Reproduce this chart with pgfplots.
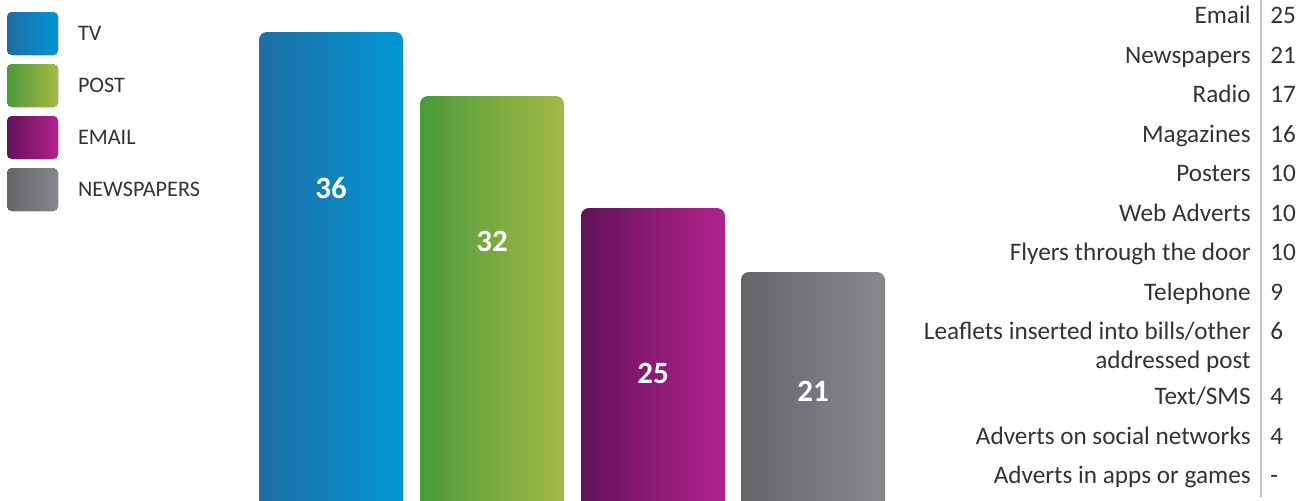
\documentclass[border=0pt]{standalone}
\usepackage{pgfplots}
\pgfplotsset{compat=1.18}
\usepackage{fontspec}
\setmainfont{Carlito}
\definecolor{tvL}{HTML}{1F6EA2}
\definecolor{tvM}{HTML}{0080B4}
\definecolor{tvR}{HTML}{0096D5}
\definecolor{poL}{HTML}{4A9A3A}
\definecolor{poR}{HTML}{A7B948}
\definecolor{emL}{HTML}{62125A}
\definecolor{emR}{HTML}{B2238D}
\definecolor{nwL}{HTML}{646569}
\definecolor{nwR}{HTML}{88898D}
\definecolor{txt}{HTML}{333333}
\pgfplotsset{
  mybar/.style={ybar, bar width=144, bar shift=0pt, draw=none, rounded corners=4pt,
    legend image code/.code={\fill[##1, rounded corners=2.5pt] (0pt,-9.9pt) rectangle (25.5pt,11.6pt);}},
}
\begin{document}
\begin{tikzpicture}
\useasboundingbox (0,0) rectangle (654.5pt,250pt);
\begin{axis}[
  at={(0,-10pt)}, anchor=south west, scale only axis,
  width=654.5pt, height=260pt,
  xmin=0, xmax=1309, ymin=5.5, ymax=38,
  hide axis, clip=true,
  legend style={at={(0.00535,0.9769)}, anchor=north west, draw=none, fill=none,
    inner sep=0pt, outer sep=0pt, row sep=4.5pt,
    font=\fontsize{11.1pt}{13pt}\selectfont\color{txt},
    nodes={inner sep=0pt},
    /tikz/every odd column/.append style={column sep=10pt}},
  legend cell align=left,
]
\addplot[mybar, left color=tvL, middle color=tvM, right color=tvR] coordinates {(331,36)};
\addlegendentry{TV}
\addplot[mybar, left color=poL, right color=poR] coordinates {(492,32)};
\addlegendentry{POST}
\addplot[mybar, left color=emL, right color=emR] coordinates {(653,25)};
\addlegendentry{EMAIL}
\addplot[mybar, left color=nwL, right color=nwR] coordinates {(813,21)};
\addlegendentry{NEWSPAPERS}
\addplot[draw=none, forget plot, nodes near coords, point meta=explicit symbolic,
  nodes near coords style={anchor=center, text=white, font=\fontsize{15.5pt}{18pt}\selectfont\bfseries}]
  table[meta=lab] {
x y lab
331 26.25 36
492 22.94 32
653 14.69 25
813 13.56 21
};
\end{axis}
\begin{axis}[
  at={(0,0)}, anchor=south west, scale only axis,
  width=654.5pt, height=250pt,
  xmin=0, xmax=1309, ymin=0, ymax=500, y dir=reverse,
  hide axis, clip=false,
]
\addplot[color=black!22, line width=1pt] coordinates {(1261,0) (1261,497)};
\addplot[draw=none, nodes near coords, point meta=explicit symbolic,
  nodes near coords style={anchor=base east, inner sep=0pt, text=txt, font=\fontsize{12.6pt}{15pt}\selectfont}]
  table[meta=lab, col sep=comma] {
x,y,lab
1251,23.5,Email
1251,63.5,Newspapers
1251,102.5,Radio
1251,142.5,Magazines
1251,181.5,Posters
1251,221.5,Web Adverts
1251,260.5,Flyers through the door
1251,300.5,Telephone
1251,339.5,Leaflets inserted into bills/other
1251,368.5,addressed post
1251,404.5,Text/SMS
1251,444.5,Adverts on social networks
1251,483.5,Adverts in apps or games
};
\addplot[draw=none, nodes near coords, point meta=explicit symbolic,
  nodes near coords style={anchor=base west, inner sep=0pt, text=txt, font=\fontsize{12.6pt}{15pt}\selectfont}]
  table[meta=lab, col sep=comma] {
x,y,lab
1270,23.5,25
1270,63.5,21
1270,102.5,17
1270,142.5,16
1270,181.5,10
1270,221.5,10
1270,260.5,10
1270,300.5,9
1270,339.5,6
1270,404.5,4
1270,444.5,4
1270,483.5,-
};
\end{axis}
\end{tikzpicture}
\end{document}
